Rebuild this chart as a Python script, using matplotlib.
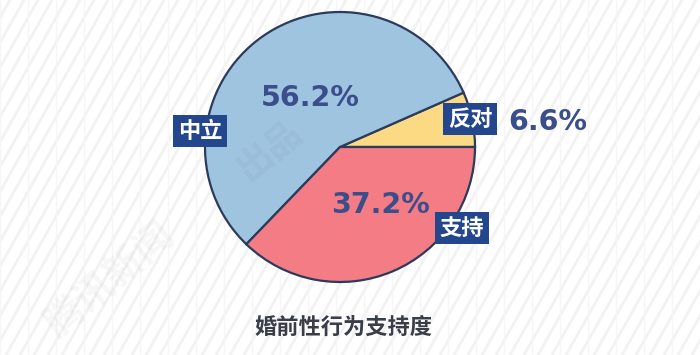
import matplotlib
matplotlib.use("Agg")
import matplotlib.pyplot as plt
import numpy as np

plt.rcParams['font.family'] = ['Noto Sans CJK SC', 'DejaVu Sans']

categories = ['反对', '中立', '支持']
values = [6.6, 56.2, 37.2]
pct_labels = ['6.6%', '56.2%', '37.2%']
colors = ['#FCD983', '#9EC4E0', '#F47C84']
title = '婚前性行为支持度'

W, H = 700, 355
fig = plt.figure(figsize=(7, 3.55), dpi=100)
ax = fig.add_axes([0, 0, 1, 1])
ax.set_xlim(0, W)
ax.set_ylim(0, H)
ax.set_aspect('equal')
ax.axis('off')
fig.patch.set_facecolor('white')

# faint background stripes
for x0 in np.arange(-400, W + 50, 14):
    ax.plot([x0, x0 + 200], [0, H], color='#f2f2f2', lw=2.0, zorder=0)
for x0 in np.arange(0, W, 28):
    ax.plot([x0, x0], [0, H], color='#f6f6f6', lw=1.0, zorder=0)

cx, cy, r = 340, H - 147, 135
wedges, _ = ax.pie(values, colors=colors, startangle=0, counterclock=True,
                   center=(cx, cy), radius=r, frame=True,
                   wedgeprops=dict(edgecolor='#2C3B5C', linewidth=1.6))
ax.set_xlim(0, W)
ax.set_ylim(0, H)
ax.axis('off')

pct_color = '#3B4E8C'
pct_pos = [(548, 122), (310, 98), (380, 205)]
for (px, py), t in zip(pct_pos, pct_labels):
    ax.text(px, H - py, t, ha='center', va='center', fontsize=20.5,
            color=pct_color, fontweight='bold', family=['DejaVu Sans'], zorder=5)

box_pos = [(470, 119), (200, 131), (462, 228)]
for (bx, by), c in zip(box_pos, categories):
    ax.text(bx, H - by, c, ha='center', va='center', fontsize=16,
            color='white', fontweight='bold', zorder=6,
            bbox=dict(boxstyle='square,pad=0.22', facecolor='#23468C', edgecolor='none'))

# faint watermark
ax.text(270, H - 150, '出品', rotation=40, fontsize=26, color='#7f8aa0', alpha=0.12,
        ha='center', va='center', fontweight='bold', zorder=4)
ax.text(110, H - 280, '腾讯新闻', rotation=40, fontsize=28, color='#999999', alpha=0.08,
        ha='center', va='center', fontweight='bold', zorder=1)

ax.text(343, H - 327, title, ha='center', va='center', fontsize=16,
        color='#3A3E48', fontweight='bold', zorder=5)

fig.savefig('out.png', dpi=100, facecolor='white')
